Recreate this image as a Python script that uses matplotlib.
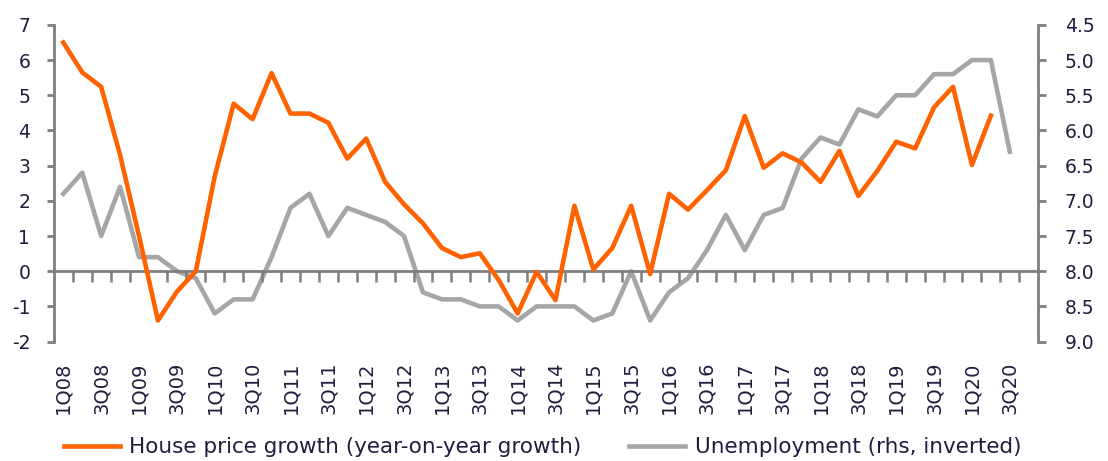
import numpy as np
import matplotlib
matplotlib.use("Agg")
import matplotlib.pyplot as plt

# quarterly data, 1Q08 .. 3Q20 (one empty slot at 4Q20 on the axis)
house_price = [6.5, 5.65, 5.24, 3.3, 1.0, -1.4, -0.58, 0.0, 2.7, 4.76,
               4.32, 5.63, 4.48, 4.48, 4.22, 3.2, 3.77, 2.54, 1.9, 1.36,
               0.66, 0.4, 0.51, -0.25, -1.2, -0.02, -0.82, 1.86, 0.05, 0.66,
               1.86, -0.08, 2.2, 1.75, 2.3, 2.87, 4.41, 2.94, 3.35, 3.09,
               2.54, 3.42, 2.14, 2.85, 3.68, 3.49, 4.66, 5.24, 3.02, 4.42]
unemployment = [6.9, 6.6, 7.5, 6.8, 7.8, 7.8, 8.0, 8.1, 8.6, 8.4,
                8.4, 7.8, 7.1, 6.9, 7.5, 7.1, 7.2, 7.3, 7.5, 8.3,
                8.4, 8.4, 8.5, 8.5, 8.7, 8.5, 8.5, 8.5, 8.7, 8.6,
                8.0, 8.7, 8.3, 8.1, 7.7, 7.2, 7.7, 7.2, 7.1, 6.4,
                6.1, 6.2, 5.7, 5.8, 5.5, 5.5, 5.2, 5.2, 5.0, 5.0, 6.3]
tick_labels = ["1Q08", "3Q08", "1Q09", "3Q09", "1Q10", "3Q10", "1Q11", "3Q11",
               "1Q12", "3Q12", "1Q13", "3Q13", "1Q14", "3Q14", "1Q15", "3Q15",
               "1Q16", "3Q16", "1Q17", "3Q17", "1Q18", "3Q18", "1Q19", "3Q19",
               "1Q20", "3Q20"]
n_slots = 52

ORANGE = "#ff6200"
GREY = "#a6a6a6"
AXIS = "#7f7f7f"
TEXT = "#1f1f3d"

plt.rcParams['font.family'] = ['DejaVu Sans']
plt.rcParams['axes.unicode_minus'] = False

fig = plt.figure(figsize=(11.08, 4.61), dpi=100)
ax = fig.add_axes([0.0486, 0.259, 0.8884, 0.687])
ax2 = ax.twinx()

x_hp = np.arange(len(house_price))
x_un = np.arange(len(unemployment))
l1, = ax.plot(x_hp, house_price, color=ORANGE, lw=3.3, solid_joinstyle='round',
              label="House price growth (year-on-year growth)", zorder=3)
l2, = ax2.plot(x_un, unemployment, color=GREY, lw=3.3, solid_joinstyle='round',
               label="Unemployment (rhs, inverted)", zorder=2)
ax.set_zorder(ax2.get_zorder() + 1)
ax.patch.set_visible(False)

ax.set_xlim(-0.5, n_slots - 0.5)
ax.set_ylim(-2, 7)
ax2.set_ylim(9.0, 4.5)

# x axis drawn at zero, ticks between categories
ax.spines["top"].set_visible(False)
ax2.spines["top"].set_visible(False)
ax2.spines["bottom"].set_visible(False)
ax.spines["bottom"].set_position(("data", 0))
ax2.spines["left"].set_visible(False)
ax.spines["right"].set_visible(False)
for sp in [ax.spines["left"], ax.spines["bottom"], ax2.spines["right"]]:
    sp.set_color(AXIS)
    sp.set_linewidth(2)

ax.set_xticks(np.arange(0.5, n_slots - 0.5, 1))
ax.tick_params(axis='x', direction='out', length=8, width=1.8, color=AXIS,
               labelbottom=False)
ax.set_yticks(range(-2, 8))
ax.tick_params(axis='y', direction='out', length=5, width=2, color=AXIS,
               labelsize=13.5, labelcolor=TEXT, pad=12)
ax2.set_yticks(np.arange(4.5, 9.01, 0.5))
ax2.set_yticklabels(["%.1f" % v for v in np.arange(4.5, 9.01, 0.5)])
ax2.tick_params(axis='y', direction='out', length=6, width=2, color=AXIS,
                labelsize=13.5, labelcolor=TEXT, pad=13)

# category labels under the plot
trans = ax.get_xaxis_transform()
for k, lab in enumerate(tick_labels):
    ax.text(2 * k, -0.064, lab, transform=trans, rotation=90, ha='center',
            va='top', fontsize=14, color=TEXT)

fig.legend([l1, l2], [l1.get_label(), l2.get_label()], loc='center left',
           bbox_to_anchor=(0.040, 0.03), ncol=2, frameon=False, fontsize=15.5,
           handlelength=2.6, handletextpad=0.45, columnspacing=2.2,
           labelcolor=TEXT)

fig.savefig("out.png", dpi=100)
